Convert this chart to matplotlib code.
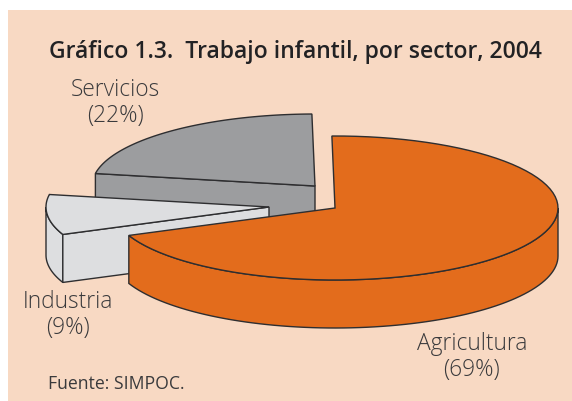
import numpy as np
import matplotlib
matplotlib.use("Agg")
import matplotlib.pyplot as plt
from matplotlib.patches import Polygon, Rectangle

sectors = ["Agricultura", "Servicios", "Industria"]
shares = [69, 22, 9]
share_labels = ["(69%)", "(22%)", "(9%)"]
title = "Gráfico 1.3.  Trabajo infantil, por sector, 2004"
source = "Fuente: SIMPOC."

bg = "#F8D9C3"
edge = "#2E2E30"
ink = "#3A3A3C"
colors = {"Agricultura": "#E36C1C", "Servicios": "#9C9D9F", "Industria": "#DDDEE0"}

# apex of each exploded slice, in image pixels
apex = {"Agricultura": (335, 208), "Servicios": (315, 186), "Industria": (269, 207)}
rx, ry, depth = 223, 72, 48
start = 90.8


def arc(name, a0, a1, dy=0):
    t = np.radians(np.linspace(a0, a1, 80))
    cx, cy = apex[name]
    return np.column_stack([cx + rx * np.cos(t), cy - ry * np.sin(t) + dy])


def poly(pts, color, z):
    ax.add_patch(Polygon(pts, closed=True, facecolor=color, edgecolor=edge, lw=1.0,
                         joinstyle="miter", zorder=z))


fig = plt.figure(figsize=(5.72, 4.01), dpi=100, facecolor="white")
ax = fig.add_axes([0, 0, 1, 1])
ax.set_xlim(0, 572)
ax.set_ylim(401, 0)
ax.axis("off")
ax.add_patch(Rectangle((8, 10), 564, 391, facecolor=bg, edgecolor="none", zorder=0))

# slice angles come from the shares
total = sum(shares)
a_agr = shares[0] / total * 360
a_ser = shares[1] / total * 360
a_ind = shares[2] / total * 360
ser0, ser1 = start, start + a_ser
ind0, ind1 = ser1, ser1 + a_ind
agr0, agr1 = ind1, start + 360

# Servicios
c = colors["Servicios"]
corner = arc("Servicios", ser1, ser1, 0)[:1]
tip = np.array([apex["Servicios"]], dtype=float)
poly(np.vstack([corner, tip, tip + [0, depth], corner + [0, depth]]), c, 2)
poly(np.vstack([tip, arc("Servicios", ser0, ser1)]), c, 3)

# Industria
c = colors["Industria"]
corner = arc("Industria", ind1, ind1, 0)[:1]
tip = np.array([apex["Industria"]], dtype=float)
poly(np.vstack([arc("Industria", 180, ind1), arc("Industria", ind1, 180, depth)]), c, 4)
poly(np.vstack([corner, tip, tip + [0, depth], corner + [0, depth]]), c, 5)
poly(np.vstack([tip, arc("Industria", ind0, ind1)]), c, 6)

# Agricultura
c = colors["Agricultura"]
tip = np.array([apex["Agricultura"]], dtype=float)
poly(np.vstack([arc("Agricultura", agr0, 360), arc("Agricultura", 360, agr0, depth)]), c, 7)
poly(np.vstack([tip, arc("Agricultura", agr0, agr1)]), c, 8)

font = "Open Sans"
ax.text(295.5, 52, title, ha="center", va="center", fontsize=16.45, color="#222224",
        family=font, fontweight="semibold")
pos = {"Agricultura": (472, 357), "Servicios": (115.5, 103), "Industria": (68, 315)}
for name, lab in zip(sectors, share_labels):
    x, y = pos[name]
    ax.text(x, y, name + "\n" + lab, ha="center", va="center", fontsize=16.4, color=ink,
            family=font, fontweight="light", linespacing=1.14)
ax.text(48, 384, source, ha="left", va="center", fontsize=12.7, color=ink, family=font)

fig.savefig("out.png", dpi=100)
